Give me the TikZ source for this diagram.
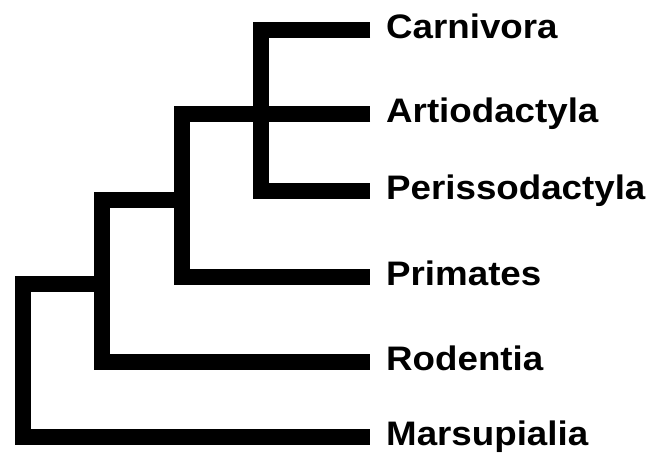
\documentclass[tikz,border=0pt]{standalone}
\usepackage{fontspec}
\newfontfamily\labfont[FakeStretch=1.08]{Liberation Sans}
\begin{document}
\begin{tikzpicture}[x=1pt,y=-1pt,
  branch/.style={line width=16pt, line join=miter, line cap=butt},
  taxon/.style={anchor=base west, inner sep=0pt, font=\labfont\fontsize{34}{40}\selectfont\bfseries}]
\useasboundingbox (0,0) rectangle (668,452);
% internal nodes
\coordinate (root) at (23,284);
\coordinate (n2) at (102,200);
\coordinate (n3) at (182,114);
\coordinate (n4) at (261,30);
% tips
\coordinate (tC) at (370,30);
\coordinate (tA) at (370,114);
\coordinate (tP) at (370,191);
\coordinate (tPr) at (370,277);
\coordinate (tR) at (370,362);
\coordinate (tM) at (370,437);
% branches
\draw[branch] (root -| n2) -- (root) |- (tM);
\draw[branch] (n2 -| n3) -- (n2) |- (tR);
\draw[branch] (tA) -- (n3) |- (tPr);
\draw[branch] (tC) -- (n4) |- (tP);
% labels
\node[taxon] (lC) at ([xshift=16pt,yshift=-8.5pt]tC) {Carnivora};
\node[taxon] (lA) at ([xshift=16pt,yshift=-8.5pt]tA) {Artiodactyla};
\node[taxon] (lP) at ([xshift=16pt,yshift=-8.5pt]tP) {Perissodactyla};
\node[taxon] (lPr) at ([xshift=16pt,yshift=-8.5pt]tPr) {Primates};
\node[taxon] (lR) at ([xshift=16pt,yshift=-8.5pt]tR) {Rodentia};
\node[taxon] (lM) at ([xshift=16pt,yshift=-8.5pt]tM) {Marsupialia};
\end{tikzpicture}
\end{document}
